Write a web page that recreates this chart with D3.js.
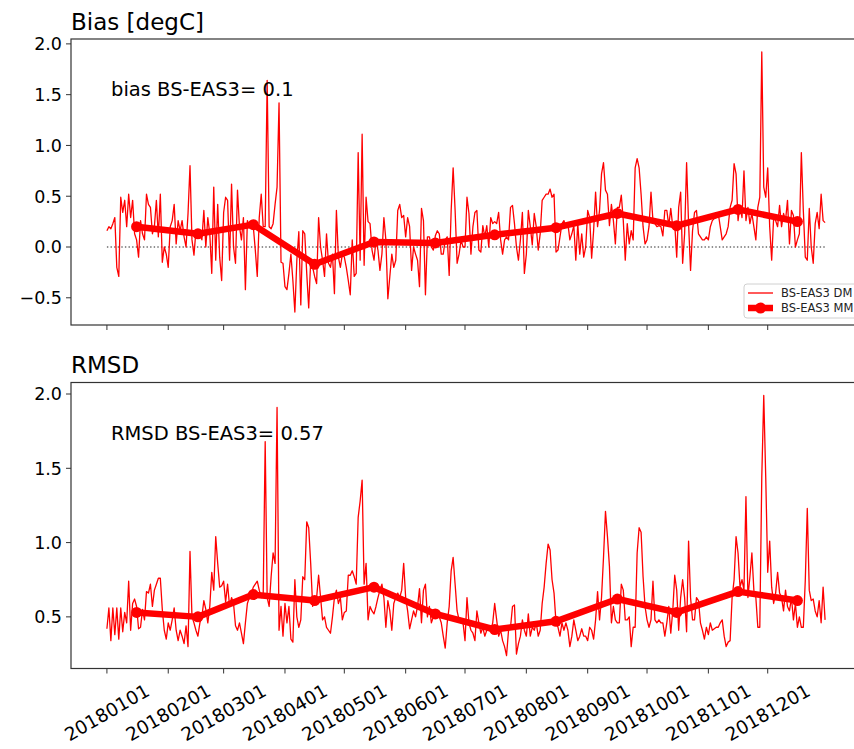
<!DOCTYPE html>
<html>
<head>
<meta charset="utf-8">
<script src="https://cdn.jsdelivr.net/npm/d3@7"></script>
<style>
  body { margin: 0; background: #fff; }
  svg { display: block; font-family: "DejaVu Sans", sans-serif; }
</style>
</head>
<body>
<div id="chart"></div>
<script>
// daily values, one per day starting at startDate
var startDate = "20180101";

var biasDaily = [
  0.16, 0.2, 0.18, 0.23, 0.29, -0.2, -0.29, 0.49, 0.34, 0.46,
  0.2, 0.52, 0.29, 0.46, 0.13, 0.07, -0.1, 0.26, 0.13, 0.07,
  0.52, 0.42, 0.39, 0.13, 0.2, 0.46, 0.1, 0.52, -0.15, 0,
  -0.07, -0.2, 0.2, 0.26, 0.42, 0.03, 0.26, 0.16, 0.26, 0.1,
  0, 0.33, 0.8, 0.07, -0.08, 0.16, 0.1, 0.13, 0.07, 0.36,
  0, 0.29, 0.13, -0.26, 0.59, -0.13, 0.42, -0.1, -0.33, 0.34,
  0.49, 0.46, -0.13, 0.62, 0, -0.16, 0.56, 0.2, 0.07, 0.29,
  -0.42, 0.26, 0.21, 0.23, 0.2, -0.03, -0.29, 0.29, 0.52, 0.2,
  0.2, 1.64, 0.2, 0.18, 0.23, 0.42, 0.59, 1.42, -0.15, -0.16,
  -0.39, -0.42, -0.26, -0.07, -0.33, -0.64, -0.13, 0.15, -0.57, 0.16,
  0.13, -0.26, -0.6, -0.13, -0.2, -0.29, -0.36, 0.29, 0, -0.13,
  -0.29, 0.13, -0.16, -0.2, -0.07, -0.46, 0.36, -0.1, -0.2, -0.07,
  -0.1, -0.2, -0.33, -0.47, 0.07, -0.29, -0.26, 0.93, -0.13, 1.11,
  -0.18, 0.49, 0.25, 0.23, -0.03, -0.13, 0.07, -0.03, -0.23, -0.07,
  0.29, 0.07, -0.51, -0.29, -0.07, -0.2, -0.13, 0.36, 0.42, 0.29,
  0.31, 0.1, 0.29, 0.2, -0.23, 0, -0.07, -0.13, -0.39, 0.38,
  0.26, -0.47, 0.1, 0.1, 0, -0.03, 0.11, 0.16, 0.13, -0.07,
  -0.07, 0.07, 0.1, -0.28, 0.36, 0.78, 0.36, -0.16, -0.07, 0.07,
  0, 0, 0.49, 0.33, -0.07, 0.2, 0.34, 0.36, -0.03, -0.05,
  0.21, 0.1, 0.21, 0, 0.29, 0.23, 0.25, 0.23, 0.34, 0.07,
  -0.07, 0.07, 0.1, 0.07, 0.39, 0.41, 0.23, 0, -0.13, 0.07,
  0.34, -0.26, -0.07, 0.36, 0.2, 0.02, 0.33, 0.2, -0.03, 0.13,
  0.46, 0.49, 0.52, 0.52, 0.57, 0.49, 0.52, -0.05, -0.03, 0.1,
  0.23, 0.26, 0.2, 0.23, 0.07, 0.13, 0.21, -0.13, 0.23, -0.07,
  0.13, -0.1, 0, 0.36, 0.29, -0.11, 0.16, 0.54, 0.2, 0.36,
  0.72, 0.83, 0.56, 0.52, 0.21, 0.42, 0.26, 0.03, 0.39, 0.39,
  0.51, 0.26, -0.13, 0.23, 0.03, 0.16, 0.07, 0.78, 0.87, 0.78,
  0.52, 0.2, 0.03, 0.07, 0.2, 0.54, 0.26, 0.23, 0.2, 0.21,
  0.2, 0.11, 0.36, 0.36, 0.21, 0.38, 0.2, 0.23, -0.1, 0.39,
  0.54, -0.16, 0.13, 0.83, 0.23, -0.23, 0.16, 0.34, 0.36, 0.13,
  0.1, 0.07, 0.07, 0.1, 0.07, 0.2, 0.26, 0.28, 0.29, 0.33,
  0.2, 0.07, 0.1, 0.13, 0.2, 0.39, 0.46, 0.82, 0.72, 0.26,
  0.41, 0.29, 0.75, 0.26, 0.39, 0.23, 0.33, 0.2, 0.07, 0.39,
  0.49, 1.92, 0.59, 0.49, 0.78, 0.2, -0.13, 0.29, 0.26, 0.2,
  0.41, 0.2, 0.33, 0.26, 0.46, 0.03, 0.36, 0.31, 0, 0.07,
  0.13, 0.93, 0.36, -0.1, -0.13, 0.38, 0, -0.16, 0.23, 0.34,
  0.18, 0.52, 0.26, 0.24
];

var rmsdDaily = [
  0.42, 0.56, 0.34, 0.56, 0.38, 0.56, 0.35, 0.56, 0.4, 0.53,
  0.46, 0.74, 0.41, 0.59, 0.62, 0.57, 0.42, 0.43, 0.55, 0.48,
  0.67, 0.66, 0.72, 0.57, 0.68, 0.72, 0.76, 0.76, 0.55, 0.41,
  0.35, 0.46, 0.41, 0.48, 0.56, 0.41, 0.34, 0.41, 0.37, 0.32,
  0.44, 0.3, 0.94, 0.5, 0.46, 0.41, 0.37, 0.46, 0.5, 0.61,
  0.55, 0.46, 0.57, 0.8, 0.68, 1.04, 0.86, 0.7, 0.71, 0.74,
  0.6, 0.72, 0.57, 0.63, 0.59, 0.44, 0.41, 0.46, 0.39, 0.32,
  0.46, 0.59, 0.63, 0.66, 0.7, 0.72, 0.74, 0.68, 0.63, 0.65,
  1.68, 0.63, 0.57, 0.77, 0.93, 0.86, 1.91, 0.41, 0.57, 0.37,
  0.59, 0.46, 0.57, 0.35, 0.33, 0.75, 0.5, 0.43, 0.48, 0.77,
  0.75, 1.14, 1.1, 0.86, 0.57, 0.63, 0.63, 0.78, 0.63, 0.48,
  0.5, 0.43, 0.41, 0.39, 0.5, 0.63, 0.68, 0.59, 0.63, 0.48,
  0.53, 0.54, 0.78, 0.78, 0.81, 0.77, 0.72, 1.17, 1.28, 1.42,
  0.72, 0.86, 0.48, 0.57, 0.54, 0.52, 0.57, 0.63, 0.68, 0.72,
  0.63, 0.43, 0.61, 0.54, 0.41, 0.59, 0.63, 0.66, 0.63, 0.68,
  0.86, 0.63, 0.54, 0.42, 0.48, 0.54, 0.5, 0.57, 0.69, 0.46,
  0.68, 0.72, 0.5, 0.57, 0.46, 0.5, 0.5, 0.52, 0.5, 0.46,
  0.37, 0.29, 0.46, 0.57, 0.81, 0.9, 0.72, 0.54, 0.48, 0.46,
  0.46, 0.34, 0.63, 0.46, 0.41, 0.39, 0.34, 0.54, 0.46, 0.39,
  0.43, 0.37, 0.41, 0.43, 0.41, 0.46, 0.59, 0.48, 0.37, 0.41,
  0.34, 0.3, 0.24, 0.41, 0.43, 0.57, 0.58, 0.25, 0.32, 0.37,
  0.48, 0.41, 0.37, 0.52, 0.37, 0.43, 0.41, 0.46, 0.37, 0.41,
  0.59, 0.7, 0.86, 0.99, 0.95, 0.75, 0.66, 0.46, 0.43, 0.37,
  0.46, 0.41, 0.46, 0.41, 0.3, 0.37, 0.48, 0.41, 0.34, 0.37,
  0.42, 0.37, 0.37, 0.34, 0.43, 0.41, 0.35, 0.48, 0.67, 0.48,
  0.63, 0.9, 1.21, 1.04, 0.84, 0.46, 0.57, 0.48, 0.46, 0.46,
  0.72, 0.68, 0.48, 0.48, 0.5, 0.3, 0.43, 0.43, 0.93, 1.1,
  1.07, 0.77, 0.57, 0.48, 0.43, 0.48, 0.74, 0.48, 0.46, 0.48,
  0.46, 0.46, 0.37, 0.46, 0.57, 0.39, 0.54, 0.78, 0.68, 0.41,
  0.63, 0.75, 0.63, 0.4, 1.01, 0.63, 0.48, 0.48, 0.63, 0.61,
  0.46, 0.41, 0.35, 0.43, 0.38, 0.46, 0.41, 0.42, 0.43, 0.43,
  0.46, 0.48, 0.37, 0.3, 0.33, 0.34, 0.63, 0.75, 1.04, 0.93,
  0.7, 0.75, 0.68, 1.31, 0.63, 0.77, 0.93, 0.68, 0.63, 0.43,
  0.43, 1.44, 1.99, 1.44, 0.8, 1.01, 0.7, 0.59, 0.66, 0.8,
  0.66, 0.63, 0.54, 0.68, 0.57, 0.54, 0.63, 0.48, 0.59, 0.43,
  0.5, 0.43, 0.43, 0.75, 1.23, 0.68, 0.61, 0.62, 0.54, 0.5,
  0.61, 0.46, 0.7, 0.48
];

// monthly means, plotted mid month
var monthlyDates = ["20180116", "20180216", "20180316", "20180416", "20180516", "20180616",
                    "20180716", "20180816", "20180916", "20181016", "20181116", "20181216"];
var biasMonthly = [0.2, 0.13, 0.22, -0.17, 0.05, 0.04, 0.12, 0.19, 0.33, 0.21, 0.37, 0.25];
var rmsdMonthly = [0.53, 0.5, 0.65, 0.61, 0.7, 0.52, 0.415, 0.47, 0.62, 0.53, 0.67, 0.61];

var xTickLabels = ["20180101", "20180201", "20180301", "20180401", "20180501", "20180601",
                   "20180701", "20180801", "20180901", "20181001", "20181101", "20181201"];
var biasTicks = [-0.5, 0, 0.5, 1.0, 1.5, 2.0];
var rmsdTicks = [0.5, 1.0, 1.5, 2.0];

var W = 854, H = 749;
var left = 71, plotW = 790, plotH = 286;
var red = "#ff0000";

var parse = d3.utcParse("%Y%m%d");
var t0 = parse(startDate);
function dayDate(i) { return d3.utcDay.offset(t0, i); }

var svg = d3.select("#chart").append("svg")
    .attr("width", W)
    .attr("height", H);

// shared x scale with matplotlib-like 5% margins
var first = dayDate(0), last = dayDate(biasDaily.length - 1);
var span = last - first;
var x = d3.scaleUtc()
    .domain([new Date(+first - span * 0.05), new Date(+last + span * 0.05)])
    .range([left, left + plotW]);

function fmtY(v) { return d3.format(".1f")(v).replace("-", "\u2212"); }

function drawPanel(top, daily, monthly, ticks, title, note, withZero) {
    var all = daily.concat(monthly);
    if (withZero) all.push(0);
    var lo = d3.min(all), hi = d3.max(all), pad = (hi - lo) * 0.05;
    var y = d3.scaleLinear().domain([lo - pad, hi + pad]).range([top + plotH, top]);

    var g = svg.append("g");

    // zero reference line
    if (withZero) {
        g.append("line")
            .attr("x1", x(first)).attr("x2", x(last))
            .attr("y1", y(0)).attr("y2", y(0))
            .attr("stroke", "#222")
            .attr("stroke-width", 1.2)
            .attr("stroke-dasharray", "1.4,2.2");
    }

    // daily line
    g.append("path")
        .datum(daily)
        .attr("fill", "none")
        .attr("stroke", red)
        .attr("stroke-width", 1.3)
        .attr("stroke-linejoin", "round")
        .attr("d", d3.line()
            .x(function (d, i) { return x(dayDate(i)); })
            .y(function (d) { return y(d); }));

    // monthly line + markers
    g.append("path")
        .datum(monthly)
        .attr("fill", "none")
        .attr("stroke", red)
        .attr("stroke-width", 6.5)
        .attr("stroke-linejoin", "round")
        .attr("d", d3.line()
            .x(function (d, i) { return x(parse(monthlyDates[i])); })
            .y(function (d) { return y(d); }));

    g.selectAll("circle.mm")
        .data(monthly)
        .enter()
        .append("circle")
        .attr("class", "mm")
        .attr("cx", function (d, i) { return x(parse(monthlyDates[i])); })
        .attr("cy", function (d) { return y(d); })
        .attr("r", 5.5)
        .attr("fill", red);

    // y ticks
    var yt = g.append("g");
    yt.selectAll("line")
        .data(ticks)
        .enter()
        .append("line")
        .attr("x1", left - 5).attr("x2", left)
        .attr("y1", function (d) { return y(d); })
        .attr("y2", function (d) { return y(d); })
        .attr("stroke", "#333");
    yt.selectAll("text")
        .data(ticks)
        .enter()
        .append("text")
        .attr("x", left - 9)
        .attr("y", function (d) { return y(d); })
        .attr("dy", "0.36em")
        .attr("text-anchor", "end")
        .style("font-size", "17.5px")
        .attr("fill", "#000")
        .text(fmtY);

    // x tick marks
    g.selectAll("line.xt")
        .data(xTickLabels)
        .enter()
        .append("line")
        .attr("class", "xt")
        .attr("x1", function (d) { return x(parse(d)); })
        .attr("x2", function (d) { return x(parse(d)); })
        .attr("y1", top + plotH)
        .attr("y2", top + plotH + 5)
        .attr("stroke", "#333");

    // frame
    g.append("rect")
        .attr("x", left).attr("y", top)
        .attr("width", plotW).attr("height", plotH)
        .attr("fill", "none")
        .attr("stroke", "#333")
        .attr("stroke-width", 1.2);

    g.append("text")
        .attr("x", left)
        .attr("y", top - 9.5)
        .style("font-size", "23px")
        .text(title);

    g.append("text")
        .attr("x", 111)
        .attr("y", top + 57)
        .style("font-size", "19.5px")
        .text(note);

    return g;
}

var gTop = drawPanel(39, biasDaily, biasMonthly, biasTicks, "Bias [degC]", "bias BS-EAS3= 0.1", true);
drawPanel(382.5, rmsdDaily, rmsdMonthly, rmsdTicks, "RMSD", "RMSD BS-EAS3= 0.57", false);

// x tick labels on bottom panel, rotated 30 deg, centred on tick
svg.append("g")
    .selectAll("text")
    .data(xTickLabels)
    .enter()
    .append("text")
    .attr("text-anchor", "middle")
    .attr("dominant-baseline", "central")
    .attr("transform", function (d) { return "translate(" + x(parse(d)) + ",712.5) rotate(-30)"; })
    .style("font-size", "18.5px")
    .text(function (d) { return d; });

// legend (lower right of top panel)
var lg = gTop.append("g").attr("transform", "translate(744,284)");
lg.append("rect")
    .attr("width", 130).attr("height", 34)
    .attr("rx", 3)
    .attr("fill", "#fff").attr("fill-opacity", 0.8)
    .attr("stroke", "#d0d0d0");
lg.append("line")
    .attr("x1", 4).attr("x2", 29).attr("y1", 9).attr("y2", 9)
    .attr("stroke", red).attr("stroke-width", 1.3);
lg.append("line")
    .attr("x1", 4).attr("x2", 29).attr("y1", 24).attr("y2", 24)
    .attr("stroke", red).attr("stroke-width", 6.5);
lg.append("circle")
    .attr("cx", 16.5).attr("cy", 24).attr("r", 5.5).attr("fill", red);
lg.append("text").attr("x", 37).attr("y", 9).attr("dy", "0.36em")
    .style("font-size", "11.5px").attr("fill", "#222").text("BS-EAS3 DM");
lg.append("text").attr("x", 37).attr("y", 24).attr("dy", "0.36em")
    .style("font-size", "11.5px").attr("fill", "#222").text("BS-EAS3 MM");
</script>
</body>
</html>
